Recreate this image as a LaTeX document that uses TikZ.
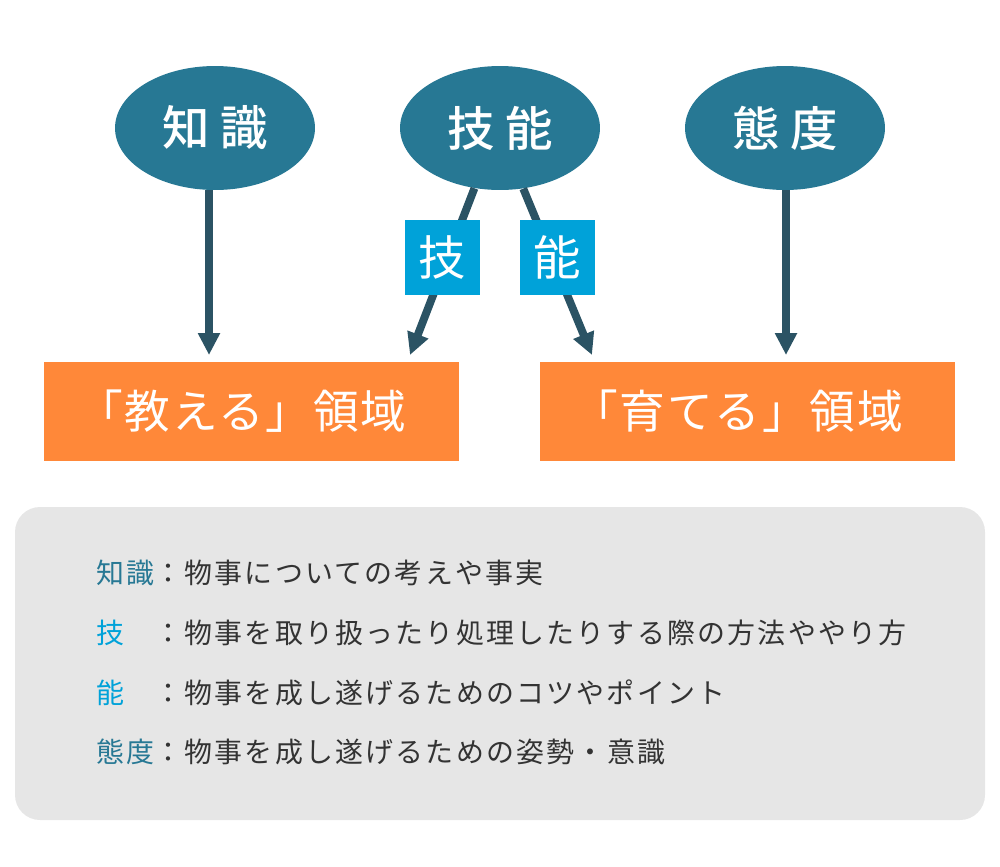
\documentclass[tikz,border=0pt]{standalone}
\usepackage{fontspec}
\usetikzlibrary{arrows.meta, shapes.geometric}
\newfontfamily\jpfont{Noto Sans CJK JP}
\newfontfamily\jpwide[LetterSpace=22, UprightFont=* Medium]{Noto Sans CJK JP}
\newfontfamily\jpbox[LetterSpace=4]{Noto Sans CJK JP}
\newfontfamily\jpnote[LetterSpace=8]{Noto Sans CJK JP}
\definecolor{ovalblue}{RGB}{39,120,148}
\definecolor{arrowdark}{RGB}{43,83,100}
\definecolor{areaorange}{RGB}{255,136,57}
\definecolor{tagblue}{RGB}{0,162,217}
\definecolor{notegray}{RGB}{230,230,230}
\definecolor{notetext}{RGB}{51,51,51}
\newcommand{\areapad}{\kern11pt}

\begin{document}
\begin{tikzpicture}[
		x=0.02cm, y=-0.02cm,
		oval/.style={ellipse, fill=ovalblue, minimum width=4cm, minimum height=2.48cm, inner sep=0pt, text=white, font=\jpwide\fontsize{27pt}{30pt}\selectfont},
		area box/.style={rectangle, fill=areaorange, minimum width=8.3cm, minimum height=1.98cm, inner sep=0pt, text=white, font=\jpbox\fontsize{26pt}{30pt}\selectfont},
		tag box/.style={rectangle, fill=tagblue, minimum size=1.5cm, inner sep=0pt, text=white, font=\jpfont\fontsize{27pt}{30pt}\selectfont},
		link/.style={arrowdark, line width=4.5pt, -{Triangle[length=0.44cm, width=0.42cm]}},
		note line/.style={anchor=west, inner sep=0pt, text=notetext, font=\jpnote\fontsize{15.9pt}{18pt}\selectfont}
		]
		\useasboundingbox (0,0) rectangle (1000,866);

		% =========================================================
		% Top row: the three ovals
		% =========================================================
		\node[oval] (chishiki) at (215,128) {知識};
		\node[oval] (ginou) at (500,128) {技能};
		\node[oval] (taido) at (785,128) {態度};

		% =========================================================
		% Bottom row: the two areas
		% =========================================================
		\node[area box] (oshieru) at (251.5,411.5) {「教える」領域\areapad};
		\node[area box] (sodateru) at (747.5,411.5) {「育てる」領域\areapad};

		% Arrow ends
		\coordinate (endA) at (209,355);
		\coordinate (endB) at (410,355);
		\coordinate (endC) at (592,355);
		\coordinate (endD) at (786,355);

		% Links
		\draw[link] (chishiki.south -| endA) -- (endA);
		\draw[link] (taido.south -| endD) -- (endD);
		\draw[link] (ginou.-113) -- (endB);
		\draw[link] (ginou.-69) -- (endC);

		% Tags on the skill links
		\node[tag box] (gi) at (442.5,257.5) {技};
		\node[tag box] (nou) at (557.5,257.5) {能};

		% =========================================================
		% Notes panel
		% =========================================================
		\fill[notegray, rounded corners=0.5cm] (15,507) rectangle (985,820);
		\node[note line] (noteA) at (96,573) {{\color{ovalblue}知識}：物事についての考えや事実};
		\node[note line] (noteB) at (96,633) {{\color{tagblue}技}　：物事を取り扱ったり処理したりする際の方法ややり方};
		\node[note line] (noteC) at (96,693) {{\color{tagblue}能}　：物事を成し遂げるためのコツやポイント};
		\node[note line] (noteD) at (96,752) {{\color{ovalblue}態度}：物事を成し遂げるための姿勢・意識};

	\end{tikzpicture}
\end{document}
